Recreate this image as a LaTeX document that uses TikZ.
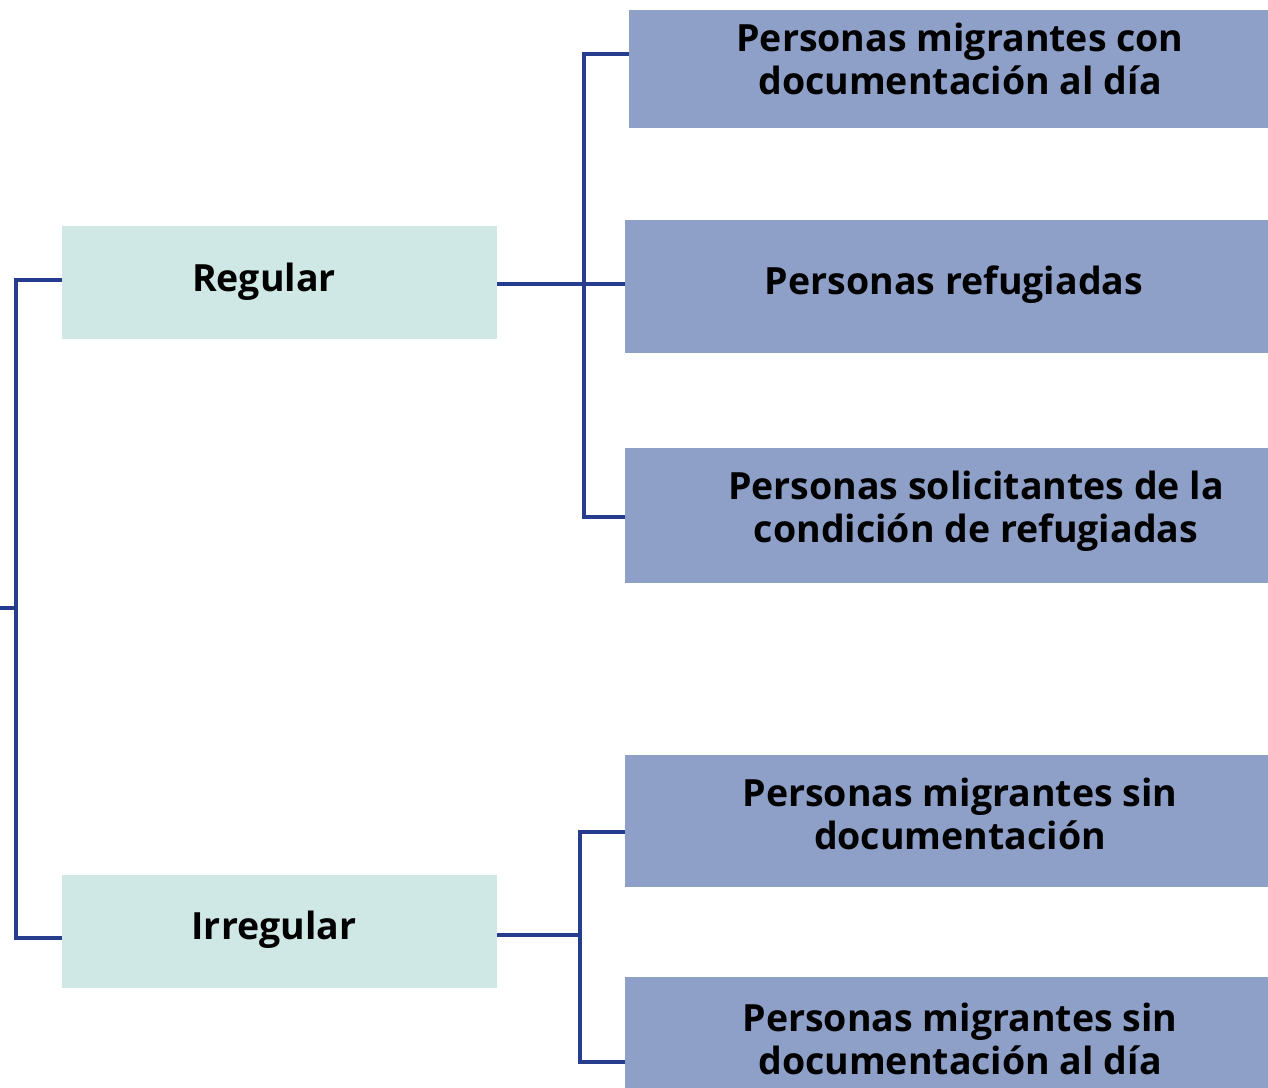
\documentclass[tikz,border=0pt]{standalone}
\usepackage{fontspec}
\setmainfont{Open Sans}
\definecolor{boxdark}{RGB}{142,160,200}
\definecolor{boxlight}{RGB}{207,232,229}
\definecolor{linecol}{RGB}{38,60,140}
\begin{document}
\begin{tikzpicture}[x=1pt,y=-1pt,
  darkbox/.style={fill=boxdark,draw=none,inner sep=0pt,anchor=north west},
  lightbox/.style={fill=boxlight,draw=none,inner sep=0pt,anchor=north west},
  lbl/.style={font=\fontsize{37.5}{43}\selectfont\bfseries,align=center,text=black,inner sep=0pt},
  conn/.style={draw=linecol,line width=3.4pt}]
\useasboundingbox (0,0) rectangle (1268,1087);
% boxes
\node[lightbox,minimum width=435pt,minimum height=113pt] (reg) at (62,226) {};
\node[lightbox,minimum width=435pt,minimum height=113pt] (irr) at (62,875) {};
\node[darkbox,minimum width=660pt,minimum height=118pt] (b1) at (629,10) {};
\node[darkbox,minimum width=660pt,minimum height=133pt] (b2) at (625,220) {};
\node[darkbox,minimum width=660pt,minimum height=135pt] (b3) at (625,448) {};
\node[darkbox,minimum width=660pt,minimum height=132pt] (b4) at (625,755) {};
\node[darkbox,minimum width=660pt,minimum height=140pt] (b5) at (625,977) {};
% labels
\node[lbl] (treg) at (264,282) {Regular};
\node[lbl] (tirr) at (274,930) {Irregular};
\node[lbl] (t1) at (960,59) {Personas migrantes con\\documentación al día};
\node[lbl] (t2) at (954,285) {Personas refugiadas};
\node[lbl] (t3) at (976,511) {Personas solicitantes de la\\condición de refugiadas};
\node[lbl] (t4) at (960,814) {Personas migrantes sin\\documentación};
\node[lbl] (t5) at (960,1039) {Personas migrantes sin\\documentación al día};
% connectors
\coordinate (root) at (0,608);
\coordinate (rv) at (16,608);
\coordinate (j1) at (584,284);
\coordinate (j2) at (580,935);
\draw[conn] (root) -- (rv);
\draw[conn] (reg.west |- 0,280) -| (16,280) -- (16,938) -- (irr.west |- 0,938);
\draw[conn] (reg.east |- j1) -- (b2.west |- j1);
\draw[conn] (b1.west |- 0,54) -| (584,517) -- (b3.west |- 0,517);
\draw[conn] (irr.east |- j2) -- (j2);
\draw[conn] (b4.west |- 0,832) -| (580,1062) -- (b5.west |- 0,1062);
\end{tikzpicture}
\end{document}
